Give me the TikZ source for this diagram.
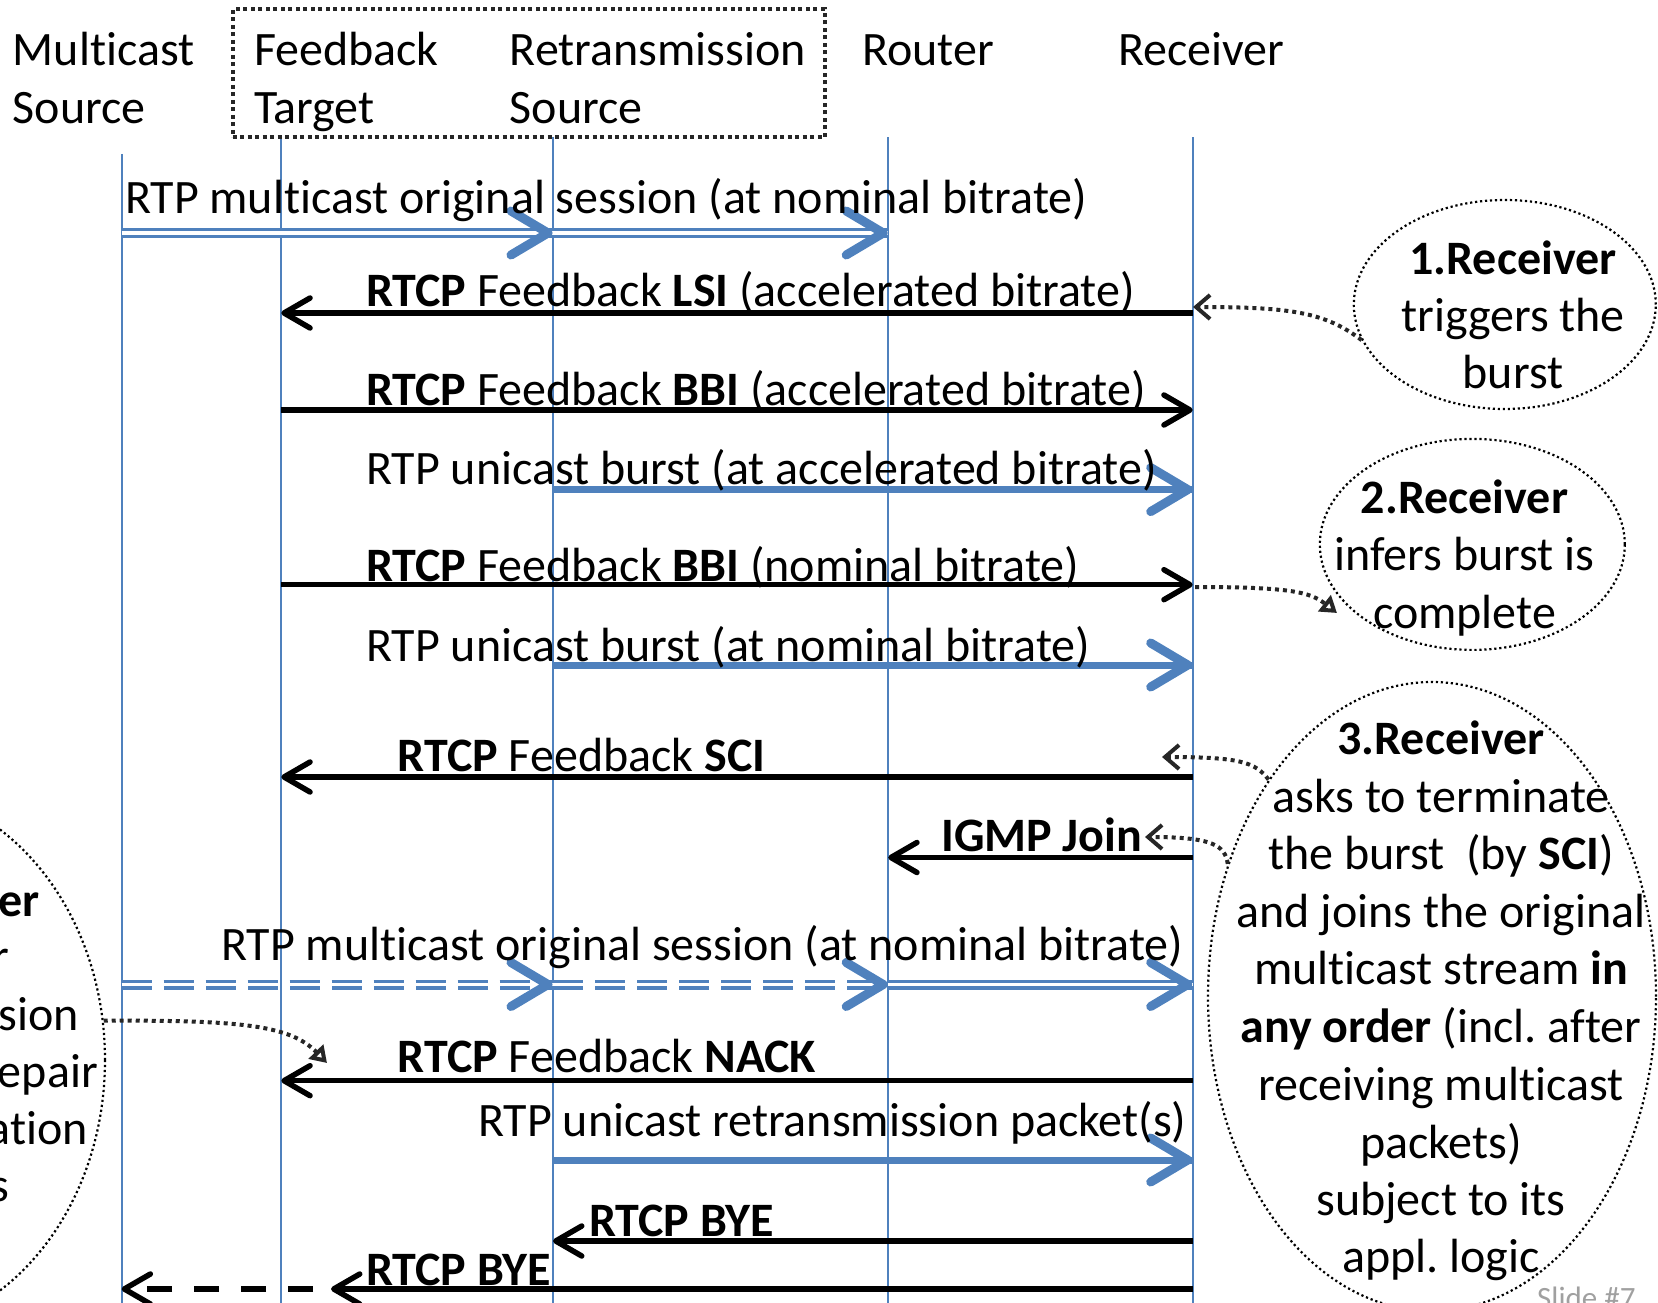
\documentclass[tikz,border=0pt]{standalone}
\usepackage{fontspec}
\setmainfont[Ligatures=NoCommon]{Carlito}
\usetikzlibrary{arrows.meta,shapes.geometric}
\definecolor{lblue}{HTML}{4F81BD}
\definecolor{dgray}{HTML}{262626}
\definecolor{sgray}{HTML}{A0A0A0}
\newcommand{\bchev}[1]{\draw[chevst] ([shift={(-42,-22)}]#1) -- ([shift={(-5,0)}]#1) -- ([shift={(-42,22)}]#1);}
\frenchspacing
\begin{document}
\begin{tikzpicture}[x=1pt,y=-1pt,
  lbl/.style={font=\fontsize{48}{57.5}\selectfont, inner sep=0pt, anchor=base west},
  ctr/.style={font=\fontsize{48}{57.5}\selectfont, inner sep=0pt, anchor=base},
  frag/.style={font=\fontsize{48}{57.5}\selectfont, inner sep=0pt, anchor=base east},
  lifeline/.style={draw=lblue, line width=2.2},
  blk/.style={draw=black, line width=5.5, -{Straight Barb[length=26pt,width=30pt,round]}},
  uni/.style={draw=lblue, line width=7},
  dbl/.style={draw=lblue, double=white, line width=3.2, double distance=3.6},
  dbld/.style={dbl, dash pattern=on 30pt off 12pt},
  chevst/.style={draw=lblue, line width=9, line cap=round, line join=round},
  callout/.style={draw=dgray, line width=4, dash pattern=on 4pt off 4pt},
  bubble/.style={draw=black, line width=2.2, dash pattern=on 2.2pt off 2.8pt, ellipse, inner sep=0pt},
]
\useasboundingbox (0,0) rectangle (1658,1303);
\clip (0,0) rectangle (1658,1303);

\def\xa{121.6}\def\xb{281.3}\def\xc{553}\def\xd{888.2}\def\xe{1192.7}

% lifelines
\coordinate (MSt) at (\xa,154);   \coordinate (MSb) at (\xa,1303);
\coordinate (FTt) at (\xb,137.5); \coordinate (FTb) at (\xb,1303);
\coordinate (RSt) at (\xc,137.5); \coordinate (RSb) at (\xc,1303);
\coordinate (RTt) at (\xd,137.5); \coordinate (RTb) at (\xd,1303);
\coordinate (RCt) at (\xe,137.5); \coordinate (RCb) at (\xe,1303);
\draw[lifeline] (MSt) -- (MSb);
\draw[lifeline] (FTt) -- (FTb);
\draw[lifeline] (RSt) -- (RSb);
\draw[lifeline] (RTt) -- (RTb);
\draw[lifeline] (RCt) -- (RCb);

% dotted group box
\node[draw=dgray, line width=4, dash pattern=on 4pt off 3.5pt, minimum width=592, minimum height=128, inner sep=0pt] (grp) at (528.7,73.5) {};

% header
\node[lbl] (h1a) at (12.7,66) {Multicast};
\node[lbl] (h1b) at (12.7,124) {Source};
\node[lbl] (h2a) at (253.8,66) {Feedback};
\node[lbl] (h2b) at (253.8,124) {Target};
\node[lbl] (h3a) at (509.7,66) {Retransmission};
\node[lbl] (h3b) at (509.7,124) {Source};
\node[lbl] (h4) at (862,66) {Router};
\node[lbl] (h5) at (1118,66) {Receiver};

% message coordinates
\coordinate (m1a) at (\xa,233); \coordinate (m1b) at (\xc,233); \coordinate (m1c) at (\xd,233);
\coordinate (m2a) at (\xe,313); \coordinate (m2b) at (\xb,313);
\coordinate (m3a) at (\xb,410); \coordinate (m3b) at (\xe,410);
\coordinate (m4a) at (\xc,489.6); \coordinate (m4b) at (\xe,489.6);
\coordinate (m5a) at (\xb,584.7); \coordinate (m5b) at (\xe,584.7);
\coordinate (m6a) at (\xc,665); \coordinate (m6b) at (\xe,665);
\coordinate (m7a) at (\xe,777); \coordinate (m7b) at (\xb,777);
\coordinate (m8a) at (\xe,857.5); \coordinate (m8b) at (\xd,857.5);
\coordinate (m9a) at (\xa,984.5); \coordinate (m9b) at (\xc,984.5); \coordinate (m9c) at (\xd,984.5); \coordinate (m9d) at (\xe,984.5);
\coordinate (m10a) at (\xe,1080.7); \coordinate (m10b) at (\xb,1080.7);
\coordinate (m11a) at (\xc,1160); \coordinate (m11b) at (\xe,1160);
\coordinate (m12a) at (\xe,1241); \coordinate (m12b) at (\xc,1241);
\coordinate (m13a) at (\xe,1289); \coordinate (m13b) at (331,1289); \coordinate (m13c) at (313,1289); \coordinate (m13d) at (\xa,1289);

% arrows
\draw[dbl] (m1a) -- (m1b); \bchev{m1b}
\draw[dbl] (m1b) -- (m1c); \bchev{m1c}
\draw[blk] (m2a) -- (m2b);
\draw[blk] (m3a) -- (m3b);
\draw[uni] (m4a) -- (m4b); \bchev{m4b}
\draw[blk] (m5a) -- (m5b);
\draw[uni] (m6a) -- (m6b); \bchev{m6b}
\draw[blk] (m7a) -- (m7b);
\draw[blk] (m8a) -- (m8b);
\draw[dbld] (m9a) -- (m9b); \bchev{m9b}
\draw[dbld] (m9b) -- (m9c); \bchev{m9c}
\draw[dbl] (m9c) -- (m9d); \bchev{m9d}
\draw[blk] (m10a) -- (m10b);
\draw[uni] (m11a) -- (m11b); \bchev{m11b}
\draw[blk] (m12a) -- (m12b);
\draw[blk] (m13a) -- (m13b);
\draw[blk, dash pattern=on 25pt off 22pt] (m13c) -- (m13d);

% message labels
\node[lbl] (t1) at (124.8,214) {RTP multicast original session (at nominal bitrate)};
\node[lbl] (t2) at (366,306) {\textbf{RTCP} Feedback \textbf{LSI} (accelerated bitrate)};
\node[lbl] (t3) at (366,405) {\textbf{RTCP} Feedback \textbf{BBI} (accelerated bitrate)};
\node[lbl] (t4) at (366,484) {RTP unicast burst (at accelerated bitrate)};
\node[lbl] (t5) at (366,581) {\textbf{RTCP} Feedback \textbf{BBI} (nominal bitrate)};
\node[lbl] (t6) at (366,661) {RTP unicast burst (at nominal bitrate)};
\node[lbl] (t7) at (397.6,771) {\textbf{RTCP} Feedback \textbf{SCI}};
\node[lbl] (t8) at (941,851) {\textbf{IGMP Join}};
\node[lbl] (t9) at (221,960) {RTP multicast original session (at nominal bitrate)};
\node[lbl] (t10) at (397.6,1072) {\textbf{RTCP} Feedback \textbf{NACK}};
\node[lbl] (t11) at (478,1136) {RTP unicast retransmission packet(s)};
\node[lbl] (t12) at (589,1236) {\textbf{RTCP BYE}};
\node[lbl] (t13) at (366,1285) {\textbf{RTCP BYE}};

% bubbles
\node[bubble, minimum width=302, minimum height=209] (e1) at (1504.8,304.5) {};
\node[ctr] (e1a) at (1513,274) {\textbf{1.Receiver}};
\node[ctr] (e1b) at (1513,331) {triggers the};
\node[ctr] (e1c) at (1513,388) {burst};

\node[bubble, minimum width=305, minimum height=211] (e2) at (1472.3,544.4) {};
\node[ctr] (e2a) at (1464.5,513) {\textbf{2.Receiver}};
\node[ctr] (e2b) at (1464.5,570) {infers burst is};
\node[ctr] (e2c) at (1464.5,628) {complete};

\node[bubble, minimum width=448, minimum height=629] (e3) at (1432,996.5) {};
\node[ctr] (e3a) at (1441,754) {\textbf{3.Receiver}};
\node[ctr] (e3b) at (1441,812) {asks to terminate};
\node[ctr] (e3c) at (1441,869) {the burst\ \ (by \textbf{SCI})};
\node[ctr] (e3d) at (1441,927) {and joins the original};
\node[ctr] (e3e) at (1441,984.5) {multicast stream \textbf{in}};
\node[ctr] (e3f) at (1441,1042.7) {\textbf{any order} (incl. after};
\node[ctr] (e3g) at (1441,1100) {receiving multicast};
\node[ctr] (e3h) at (1441,1158) {packets)};
\node[ctr] (e3i) at (1441,1215) {subject to its};
\node[ctr] (e3j) at (1441,1272) {appl. logic};

\node[bubble, minimum width=448, minimum height=544] (e4) at (-119,1060) {};
\node[frag] (e4a) at (40,916) {\textbf{er}};
\node[frag] (e4b) at (9,972) {r};
\node[frag] (e4c) at (79,1030) {sion};
\node[frag] (e4d) at (98,1087) {epair};
\node[frag] (e4e) at (88,1144) {ation};
\node[frag] (e4f) at (9,1201) {s};

% callouts
\coordinate (c1tip) at (1193,307);
\coordinate (c2s) at (1195,587);
\coordinate (c2tip) at (1337,613);
\coordinate (c3tip) at (1162,757);
\coordinate (c4tip) at (1145,837);
\coordinate (c5tip) at (327,1063);
\draw[callout, -{Straight Barb[length=14pt,width=24pt]}] (e1.194) .. controls (1325,312) and (1290,307) .. (c1tip);
\draw[callout, -{Triangle[open,length=16pt,width=20pt]}] (c2s) .. controls (1290,587) and (1310,592) .. (c2tip);
\draw[callout, -{Straight Barb[length=14pt,width=24pt]}] (e3.127.5) .. controls (1255,762) and (1240,757) .. (c3tip);
\draw[callout, -{Straight Barb[length=14pt,width=24pt]}] (e3.147) .. controls (1225,845) and (1212,837) .. (c4tip);
\draw[callout, -{Triangle[open,length=16pt,width=20pt]}] (e4.10) .. controls (240,1020) and (290,1025) .. (c5tip);

\node[anchor=base west, inner sep=0pt, text=sgray, font=\fontsize{31}{37}\selectfont] (slide) at (1537,1308) {Slide \#7};
\end{tikzpicture}
\end{document}
